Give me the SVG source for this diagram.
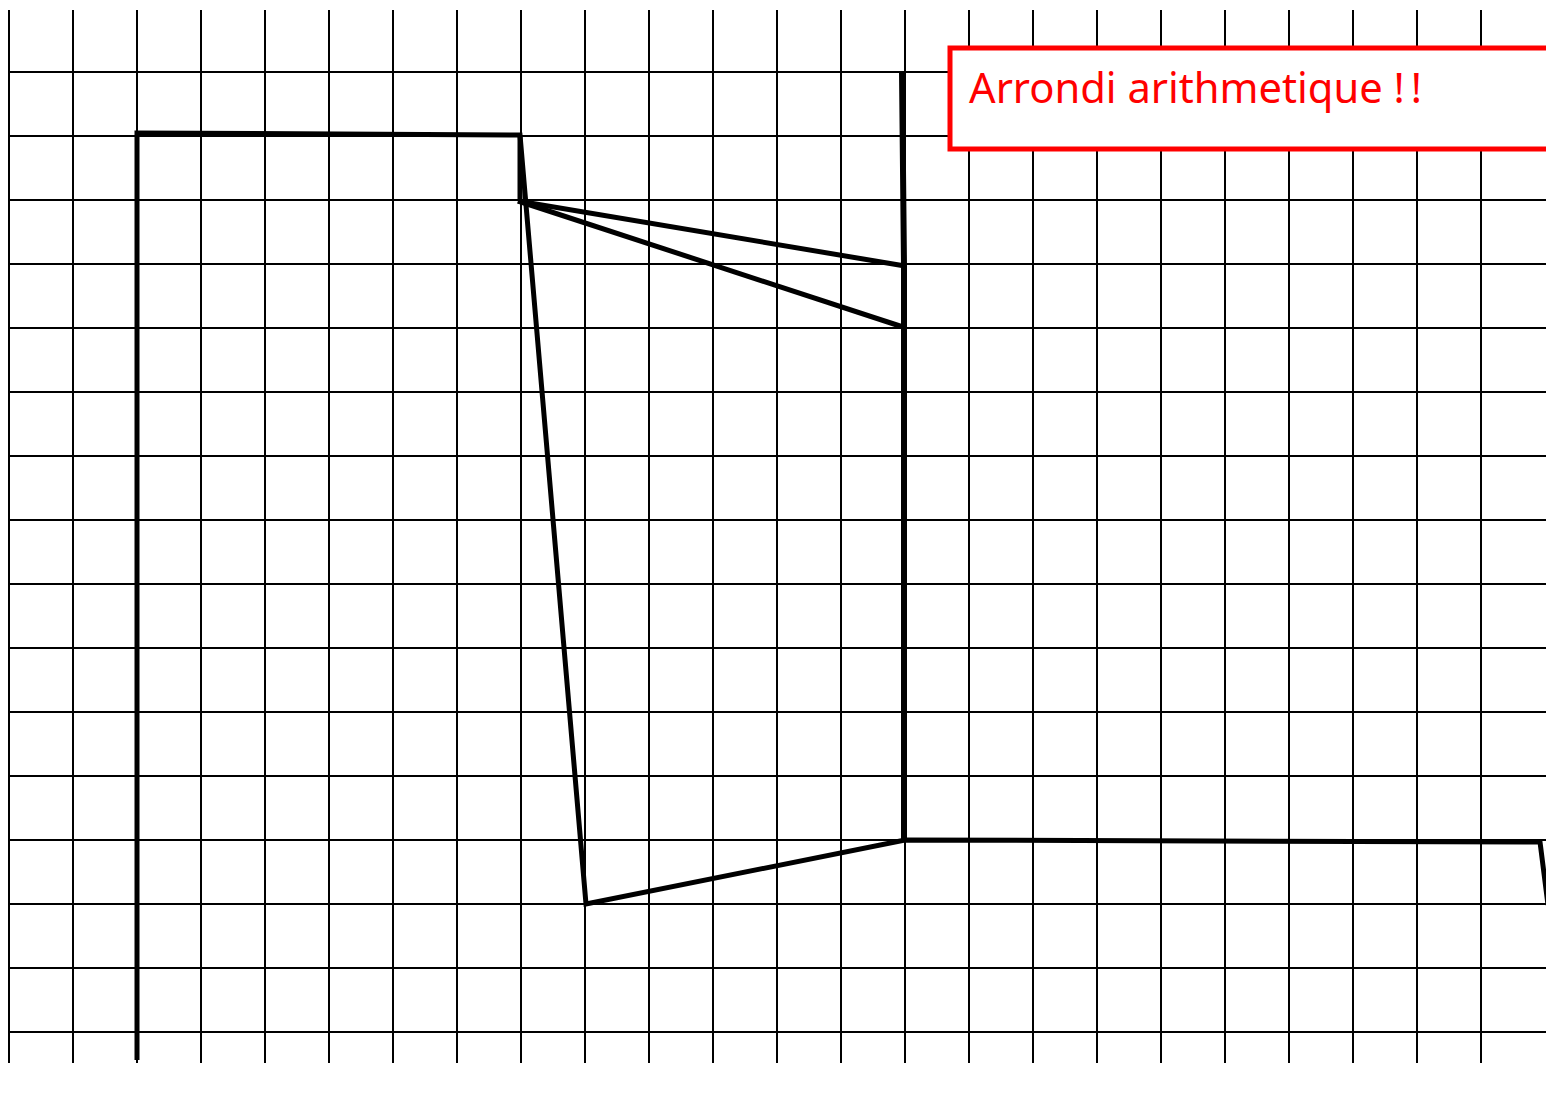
<svg xmlns="http://www.w3.org/2000/svg" width="1546" height="1093" viewBox="0 0 1546 1093">
<style>
.g{stroke:#000;stroke-width:2;fill:none}
.t{stroke:#000;stroke-width:5;fill:none;stroke-linejoin:miter}
</style>
<rect width="1546" height="1093" fill="#fff"/>
<g id="grid" class="g">
<path d="M9 10V1063M73 10V1063M137 10V1063M201 10V1063M265 10V1063M329 10V1063M393 10V1063M457 10V1063M521 10V1063M585 10V1063M649 10V1063M713 10V1063M777 10V1063M841 10V1063M905 10V1063M969 10V1063M1033 10V1063M1097 10V1063M1161 10V1063M1225 10V1063M1289 10V1063M1353 10V1063M1417 10V1063M1481 10V1063"/>
<path d="M9 72H1546M9 136H1546M9 200H1546M9 264H1546M9 328H1546M9 392H1546M9 456H1546M9 520H1546M9 584H1546M9 648H1546M9 712H1546M9 776H1546M9 840H1546M9 904H1546M9 968H1546M9 1032H1546"/>
</g>
<g id="connectors" class="t">
<path d="M137 1060V133L520 135L586 904L905 840L1540 842L1548 905"/>
<path d="M520 135L520 200"/>
<path d="M902 72L904 266V840" stroke-width="6"/>
<path d="M518 201L905 266"/>
<path d="M518 201L903 327"/>
</g>
<g id="label">
<rect x="950" y="48" width="700" height="101" fill="#fff" stroke="#f00" stroke-width="5"/>
<text x="969" y="103" font-family="Noto Sans, sans-serif" font-size="42" fill="#f00" style="font-variant-ligatures:none;font-feature-settings:'liga' 0,'dlig' 0" textLength="453" lengthAdjust="spacingAndGlyphs">Arrondi arithmetique !<tspan dx="6">!</tspan></text>
</g>
</svg>
